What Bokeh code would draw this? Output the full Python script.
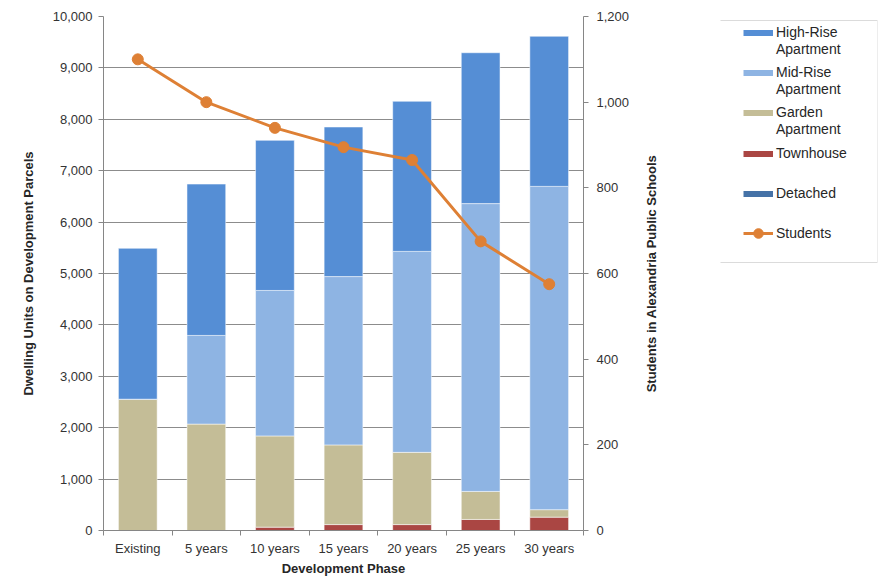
import math
from bokeh.plotting import figure
from bokeh.layouts import row
from bokeh.models import (Range1d, LinearAxis, FixedTicker, BoxAnnotation,
                          NumeralTickFormatter, Legend, LegendItem, ColumnDataSource)
from bokeh.embed import file_html
from bokeh.resources import INLINE

phases = ["Existing", "5 years", "10 years", "15 years", "20 years", "25 years", "30 years"]
detached = [0, 0, 0, 0, 0, 0, 0]
townhouse = [0, 0, 65, 115, 115, 215, 260]
garden = [2555, 2070, 1775, 1550, 1405, 545, 145]
mid_rise = [0, 1725, 2830, 3275, 3910, 5600, 6290]
high_rise = [2935, 2945, 2920, 2910, 2920, 2935, 2920]
students = [1100, 1000, 940, 895, 865, 675, 575]

units_ticks = list(range(0, 10001, 1000))
student_ticks = list(range(0, 1201, 200))

FONT = "Liberation Sans"
xs = list(range(len(phases)))
C_DET, C_TH, C_GAR, C_MID, C_HIGH = "#4572A7", "#AA4643", "#C4BD97", "#8EB4E3", "#558ED5"
C_STU = "#DE8035"

src = ColumnDataSource(dict(x=xs, detached=detached, townhouse=townhouse, garden=garden,
                            mid=mid_rise, high=high_rise, students=students))

H = 578
TOP, BOTTOM = 16, 48
W1 = 640

p = figure(width=W1, height=H, output_backend="svg", toolbar_location=None,
           x_range=Range1d(-0.5, len(phases) - 0.5), y_range=Range1d(0, 10000),
           min_border_left=103, min_border_right=W1 - 583, min_border_top=TOP,
           min_border_bottom=BOTTOM)
p.outline_line_color = None
p.extra_y_ranges = {"students": Range1d(0, 1200)}

stack_keys = ["detached", "townhouse", "garden", "mid", "high"]
colors = [C_DET, C_TH, C_GAR, C_MID, C_HIGH]
bars = p.vbar_stack(stack_keys, x="x", width=0.565, color=colors, source=src,
                    line_color="white", line_alpha=0.5, line_width=1)

line = p.line("x", "students", source=src, y_range_name="students",
              line_color=C_STU, line_width=3)
dots = p.scatter("x", "students", source=src, y_range_name="students",
                 size=11, fill_color=C_STU, line_color=C_STU)

ax_color = "#868686"
xa = p.xaxis[0]
xa.ticker = FixedTicker(ticks=xs, minor_ticks=[i - 0.5 for i in range(len(phases) + 1)])
xa.major_label_overrides = {i: lab for i, lab in enumerate(phases)}
xa.major_tick_out = 0
xa.major_tick_in = 0
xa.minor_tick_out = 5
xa.minor_tick_in = 0
xa.minor_tick_line_color = ax_color
xa.axis_label = "Development Phase"

ya = p.yaxis[0]
ya.ticker = FixedTicker(ticks=units_ticks)
ya.formatter = NumeralTickFormatter(format="0,0")
ya.axis_label = "Dwelling Units on Development Parcels"
ya.axis_label_standoff = 14

ra = LinearAxis(y_range_name="students", ticker=FixedTicker(ticks=student_ticks),
                formatter=NumeralTickFormatter(format="0,0"))
p.add_layout(ra, "right")

for ax in [xa, ya, ra]:
    ax.axis_line_color = ax_color
    ax.major_tick_line_color = ax_color
    ax.major_label_text_font = FONT
    ax.major_label_text_font_size = "13px"
    ax.major_label_text_color = "#333333"
    ax.axis_label_text_font = FONT
    ax.axis_label_text_font_size = "13px"
    ax.axis_label_text_font_style = "bold"
    ax.axis_label_text_color = "#262626"
for ax in [ya, ra]:
    ax.major_tick_out = 5
    ax.major_tick_in = 0
    ax.minor_tick_line_color = None
ya.major_label_standoff = 6
ra.major_label_standoff = 8
xa.major_label_standoff = 5
xa.axis_label_standoff = 2

p.xgrid.grid_line_color = None
p.ygrid.ticker = FixedTicker(ticks=units_ticks)
p.ygrid.grid_line_color = "#8c8c8c"

# ---- right part: secondary-axis title + legend (legend-only renderers) ----
W2 = 878 - W1
LB = 78
p2 = figure(width=W2, height=H, output_backend="svg", toolbar_location=None,
            x_range=Range1d(0, 1), y_range=Range1d(0, 1),
            x_axis_location=None, y_axis_location=None,
            min_border_left=LB, min_border_right=1, min_border_top=TOP,
            min_border_bottom=BOTTOM)
p2.grid.visible = False
p2.outline_line_color = None

title_axis = LinearAxis(ticker=FixedTicker(ticks=[]),
                        axis_label="Students in Alexandria Public Schools")
title_axis.axis_line_color = None
title_axis.major_tick_line_color = None
title_axis.minor_tick_line_color = None
title_axis.axis_label_text_font = FONT
title_axis.axis_label_text_font_size = "13px"
title_axis.axis_label_text_font_style = "bold"
title_axis.axis_label_text_color = "#262626"
title_axis.axis_label_standoff = 62
p2.add_layout(title_axis, "left")

NAN = [float("nan")]

def swatch(color):
    return p2.line(x=NAN, y=NAN, line_color=color, line_width=6)

blank = p2.line(x=NAN, y=NAN, line_alpha=0)
stu_line = p2.line(x=NAN, y=NAN, line_color=C_STU, line_width=3)
stu_dot = p2.scatter(x=NAN, y=NAN, size=10, fill_color=C_STU, line_color=C_STU)

FRAME_BOTTOM = H - BOTTOM
entries = [
    (["High-Rise", "Apartment"], [swatch(C_HIGH)], 32, 17),
    (["Mid-Rise", "Apartment"], [swatch(C_MID)], 72, 17),
    (["Garden", "Apartment"], [swatch(C_GAR)], 112, 17),
    (["Townhouse"], [swatch(C_TH)], 153, 17),
    (["Detached"], [swatch(C_DET)], 193, 17),
    (["Students"], [stu_line, stu_dot], 233, 24),
]
for lines, rends, center, gh in entries:
    its = [LegendItem(label=lines[0], renderers=rends)]
    its += [LegendItem(label=t, renderers=[blank]) for t in lines[1:]]
    top = center - gh / 2
    bottom = top + gh * len(lines)
    lg = Legend(items=its, location=(23, FRAME_BOTTOM - bottom), margin=0)
    lg.border_line_color = None
    lg.background_fill_alpha = 0
    lg.label_text_font = FONT
    lg.label_text_font_size = "14px"
    lg.label_text_color = "#262626"
    lg.glyph_width = 30
    lg.glyph_height = gh
    lg.label_height = gh
    lg.spacing = 0
    lg.padding = 0
    lg.label_standoff = 3
    p2.add_layout(lg, "center")

box = BoxAnnotation(left=LB, right=W2 - 1, top=20, bottom=262,
                    left_units="canvas", right_units="canvas",
                    top_units="canvas", bottom_units="canvas",
                    fill_alpha=0, line_color="#888888", line_width=1)
p2.add_layout(box)

layout = row(p, p2, spacing=0)
open("out.html", "w").write(file_html(layout, INLINE))
